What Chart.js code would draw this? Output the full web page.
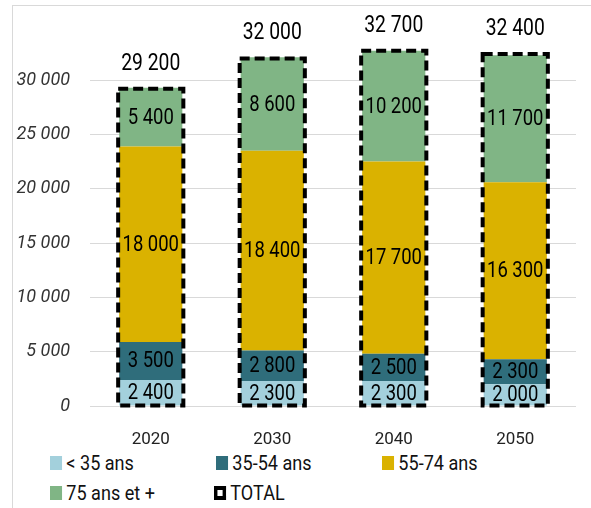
<!DOCTYPE html>
<html>
<head>
<meta charset="utf-8">
<script src="https://cdn.jsdelivr.net/npm/chart.js@4/dist/chart.umd.min.js"></script>
<style>
  body { margin: 0; background: #fff; width: 591px; height: 508px; overflow: hidden; position: relative; font-family: 'Roboto', sans-serif; }
  #frame { position: absolute; left: 12px; top: 5px; width: 620px; height: 560px; border: 1px solid #d9d9d9; }
  #wrap { position: absolute; left: 13px; top: -5px; width: 578px; height: 456px; }
  .leg { position: absolute; font-size: 21px; color: #111; line-height: 22px; white-space: nowrap; transform: scaleX(0.86); transform-origin: left center; }
  .sw { display: inline-block; width: 14px; height: 14px; margin-right: 5px; vertical-align: 0px; }
  .tot { box-sizing: border-box; border: 4px dashed #000; background: #fff; }
</style>
</head>
<body>
<div id="frame"></div>
<div id="wrap"><canvas id="myChart"></canvas></div>
<div id="legend"></div>
<script>
// donnees
var years = ['2020', '2030', '2040', '2050'];
var moins35 = [2400, 2300, 2300, 2000];
var de35a54 = [3500, 2800, 2500, 2300];
var de55a74 = [18000, 18400, 17700, 16300];
var plus75 = [5400, 8600, 10200, 11700];
var total = [29200, 32000, 32700, 32400];
var yTicks = [0, 5000, 10000, 15000, 20000, 25000, 30000];

var names = ['< 35 ans', '35-54 ans', '55-74 ans', '75 ans et +'];
var colors = ['#a3d0dc', '#2f6d7b', '#dab200', '#80b585'];
var FONT = "'Roboto', sans-serif";

function fmt(v) {
    return String(v).replace(/\B(?=(\d{3})+(?!\d))/g, ' ');
}

// texte "condense" (pas de police etroite dispo)
function narrowText(ctx, txt, x, y) {
    ctx.save();
    ctx.translate(x, y);
    ctx.scale(0.84, 1);
    ctx.fillText(txt, 0, 0);
    ctx.restore();
}

// etiquettes + cadre pointille du total
const labelsPlugin = {
    id: 'labelsPlugin',
    afterDatasetsDraw: function(chart) {
        var ctx = chart.ctx;
        var y = chart.scales.y;
        ctx.save();
        ctx.fillStyle = '#000';
        ctx.textAlign = 'center';
        ctx.textBaseline = 'middle';
        ctx.font = '22px ' + FONT;
        chart.data.datasets.forEach(function(ds, di) {
            chart.getDatasetMeta(di).data.forEach(function(el, i) {
                narrowText(ctx, fmt(ds.data[i]), el.x, (el.y + el.base) / 2 + 1);
            });
        });
        var first = chart.getDatasetMeta(0).data;
        ctx.strokeStyle = '#000';
        ctx.lineWidth = 4;
        ctx.setLineDash([10, 5]);
        first.forEach(function(el, i) {
            var w = el.width + 2;
            var top = y.getPixelForValue(total[i]);
            ctx.strokeRect(el.x - w / 2, top, w, el.base - top);
        });
        ctx.setLineDash([]);
        ctx.font = '23px ' + FONT;
        first.forEach(function(el, i) {
            var top = y.getPixelForValue(total[i]);
            narrowText(ctx, fmt(total[i]), el.x, top - 25);
        });
        ctx.restore();
    }
};

const chartdata = {
    labels: years,
    datasets: [
        { label: names[0], data: moins35, backgroundColor: colors[0] },
        { label: names[1], data: de35a54, backgroundColor: colors[1] },
        { label: names[2], data: de55a74, backgroundColor: colors[2] },
        { label: names[3], data: plus75, backgroundColor: colors[3] }
    ]
};

const config = {
    type: 'bar',
    data: chartdata,
    options: {
        animation: false,
        responsive: true,
        maintainAspectRatio: false,
        datasets: { bar: { categoryPercentage: 1, barPercentage: 0.52 } },
        layout: { padding: { top: 0, right: 15, left: 0, bottom: 0 } },
        plugins: { legend: { display: false }, tooltip: { enabled: false } },
        scales: {
            x: {
                stacked: true,
                grid: { display: false },
                border: { display: false },
                ticks: { color: '#222', font: { family: FONT, size: 17 }, padding: 16 },
                afterFit: function(s) { s.height = 45; }
            },
            y: {
                stacked: true,
                min: 0,
                max: 35000,
                afterBuildTicks: function(s) {
                    s.ticks = yTicks.map(function(v) { return { value: v }; });
                },
                grid: { color: '#d9d9d9', drawTicks: false, lineWidth: 1 },
                border: { display: false },
                ticks: {
                    color: '#333',
                    padding: 20,
                    font: { family: FONT, size: 18, style: 'italic' },
                    callback: function(v) { return fmt(v); }
                },
                afterFit: function(s) { s.width = 77; }
            }
        }
    },
    plugins: [labelsPlugin]
};

var myChart = new Chart(document.getElementById('myChart'), config);

// legende en html (grille 3 colonnes)
var legendItems = [
    { text: names[0], color: colors[0], x: 50, y: 452 },
    { text: names[1], color: colors[1], x: 216, y: 452 },
    { text: names[2], color: colors[2], x: 382, y: 452 },
    { text: names[3], color: colors[3], x: 50, y: 482 },
    { text: 'TOTAL', color: null, x: 214, y: 482 }
];
var leg = document.getElementById('legend');
legendItems.forEach(function(it) {
    var d = document.createElement('div');
    d.className = 'leg';
    d.style.left = it.x + 'px';
    d.style.top = it.y + 'px';
    var sw = document.createElement('span');
    sw.className = 'sw' + (it.color ? '' : ' tot');
    if (it.color) sw.style.background = it.color;
    d.appendChild(sw);
    d.appendChild(document.createTextNode(it.text));
    leg.appendChild(d);
});
</script>
</body>
</html>
